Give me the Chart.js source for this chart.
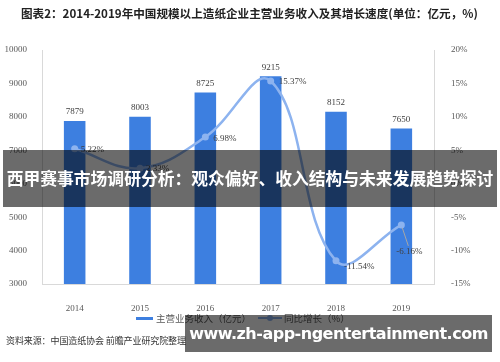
<!DOCTYPE html>
<html>
<head>
<meta charset="utf-8">
<script src="https://cdn.jsdelivr.net/npm/chart.js@4.4.0/dist/chart.umd.min.js"></script>
<style>
  body { margin: 0; background: #fff; }
  #wrap { position: relative; width: 500px; height: 362px; overflow: hidden; background: #fff; }
  #chart { position: absolute; left: 0; top: 0; }
  .title { position: absolute; left: 21px; top: 5px; font: bold 11.6px "Noto Sans CJK SC", sans-serif; color: #222; white-space: nowrap; letter-spacing: 0; }
  .legend { position: absolute; top: 311px; left: 0; width: 500px; font: 9.5px "Noto Sans CJK SC", sans-serif; color: #595959; white-space: nowrap; }
  .legend span { position: absolute; }
  .source { position: absolute; left: 6px; top: 334px; font: 9px "Noto Sans CJK SC", sans-serif; color: #333; white-space: nowrap; letter-spacing: -0.1px; }
  .banner { position: absolute; left: 3px; top: 150px; width: 494px; height: 57px; background: rgba(0,0,0,0.58); color: #fff; font: bold 16.8px "Noto Sans CJK SC", sans-serif; line-height: 57px; text-align: center; white-space: nowrap; overflow: hidden; }
  .site { position: absolute; left: 185px; top: 315px; width: 307px; height: 37px; background: rgba(0,0,0,0.58); color: #fff; font: bold 16px "DejaVu Sans", sans-serif; line-height: 37px; text-align: center; white-space: nowrap; overflow: hidden; letter-spacing: -0.5px; }
</style>
</head>
<body>
<div id="wrap">
  <canvas id="chart" width="500" height="362"></canvas>
  <div class="title">图表2：2014-2019年中国规模以上造纸企业主营业务收入及其增长速度(单位：亿元，%)</div>
  <div class="legend">
    <span style="left:136px;top:6px;width:17px;height:3px;background:#3d7fe0;"></span>
    <span style="left:156px;top:0;">主营业务收入（亿元）</span>
    <span style="left:258px;top:6px;width:24px;height:2px;background:#8db3ef;"></span>
    <span style="left:267px;top:4px;width:6px;height:6px;border-radius:3px;background:#8db3ef;"></span>
    <span style="left:284px;top:0;">同比增长（%）</span>
  </div>
  <div class="source">资料来源：中国造纸协会 前瞻产业研究院整理</div>
  <div class="banner">西甲赛事市场调研分析：观众偏好、收入结构与未来发展趋势探讨</div>
  <div class="site">www.zh-app-ngentertainment.com</div>
</div>
<script>
  const years = ["2014", "2015", "2016", "2017", "2018", "2019"];
  const revenue = [7879, 8003, 8725, 9215, 8152, 7650];
  const growth = [5.22, 2.33, 6.98, 15.37, -11.54, -6.16];
  const revenueTicks = [3000, 4000, 5000, 6000, 7000, 8000, 9000, 10000];
  const growthTicks = [-15, -10, -5, 0, 5, 10, 15, 20];

  const barBlue = "#3d7fe0";
  const lineBlue = "#8db3ef";
  const tickGray = "#595959";
  const axisGray = "#d9d9d9";
  const numFont = '9px "Liberation Serif", serif';

  // data labels drawn by hand (no datalabels plugin)
  const valueLabels = {
    id: "valueLabels",
    afterDatasetsDraw(chart) {
      const ctx = chart.ctx;
      ctx.save();
      ctx.font = numFont;
      ctx.fillStyle = "#404040";

      const barMeta = chart.getDatasetMeta(0);
      ctx.textAlign = "center";
      ctx.textBaseline = "middle";
      barMeta.data.forEach((el, i) => {
        ctx.fillText(String(revenue[i]), el.x, el.y - 9);
      });

      // offsets of the percent labels from their points
      const offs = [[6, 1], [6, 1], [8, 2], [8, 1], [8, 6], [-5, 27]];
      const lineMeta = chart.getDatasetMeta(1);
      ctx.textAlign = "left";
      lineMeta.data.forEach((el, i) => {
        const [dx, dy] = offs[i];
        if (i === 5) {
          ctx.strokeStyle = "#a6a6a6";
          ctx.lineWidth = 1;
          ctx.beginPath();
          ctx.moveTo(el.x + 1, el.y + 3);
          ctx.lineTo(el.x + 7, el.y + dy - 6);
          ctx.stroke();
        }
        ctx.fillText(growth[i].toFixed(2) + "%", el.x + dx, el.y + dy);
      });
      ctx.restore();
    },
  };

  new Chart(document.getElementById("chart").getContext("2d"), {
    type: "bar",
    data: {
      labels: years,
      datasets: [
        {
          label: "主营业务收入（亿元）",
          data: revenue,
          backgroundColor: barBlue,
          borderWidth: 0,
          categoryPercentage: 1,
          barPercentage: 0.33,
          yAxisID: "y",
          order: 1,
        },
        {
          type: "line",
          label: "同比增长（%）",
          data: growth,
          borderColor: lineBlue,
          backgroundColor: lineBlue,
          borderWidth: 2.5,
          tension: 0.4,
          pointRadius: 3.5,
          pointBackgroundColor: lineBlue,
          pointBorderWidth: 0,
          fill: false,
          yAxisID: "y1",
          order: 0,
        },
      ],
    },
    options: {
      responsive: false,
      animation: false,
      layout: { padding: { top: 50, left: 0, right: 0, bottom: 0 } },
      plugins: {
        legend: { display: false },
        title: { display: false },
        tooltip: { enabled: false },
      },
      scales: {
        x: {
          grid: { display: false },
          border: { display: true, color: axisGray },
          ticks: { color: tickGray, font: { family: "Liberation Serif", size: 9 }, padding: 11 },
          afterFit(s) { s.height = 78; },
        },
        y: {
          position: "left",
          min: 3000,
          max: 10000,
          grid: { display: false },
          border: { display: true, color: axisGray },
          afterBuildTicks(s) { s.ticks = revenueTicks.map((v) => ({ value: v })); },
          ticks: {
            color: tickGray,
            font: { family: "Liberation Serif", size: 9 },
            padding: 7,
            callback: (v) => String(v),
          },
          afterFit(s) { s.width = 42; },
        },
        y1: {
          position: "right",
          min: -15,
          max: 20,
          grid: { display: false },
          border: { display: true, color: axisGray },
          afterBuildTicks(s) { s.ticks = growthTicks.map((v) => ({ value: v })); },
          ticks: {
            color: tickGray,
            font: { family: "Liberation Serif", size: 9 },
            padding: 9,
            callback: (v) => v + "%",
          },
          afterFit(s) { s.width = 66; },
        },
      },
    },
    plugins: [valueLabels],
  });
</script>
</body>
</html>
